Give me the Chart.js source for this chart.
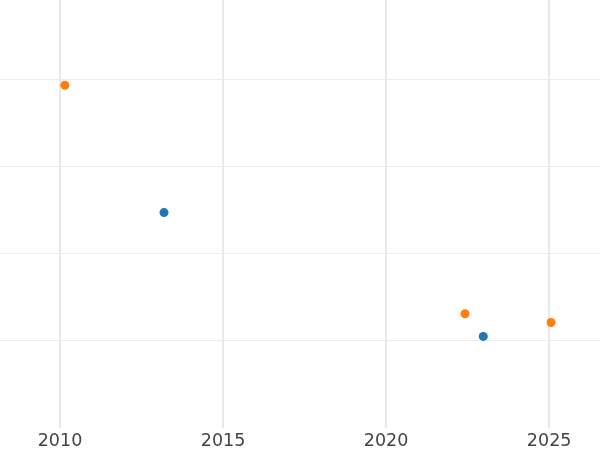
<!DOCTYPE html>
<html>
<head>
<meta charset="utf-8">
<script src="https://cdn.jsdelivr.net/npm/chart.js@4"></script>
<style>
  html, body { margin: 0; padding: 0; background: #fff; }
  #wrap { width: 600px; height: 450px; }
</style>
</head>
<body>
<div id="wrap"><canvas id="chart"></canvas></div>
<script>
const blueX = [2013.19, 2022.98];
const blueY = [2.47, 1.05];
const orangeX = [2010.15, 2022.42, 2025.06];
const orangeY = [3.93, 1.31, 1.21];
const xTicks = [2010, 2015, 2020, 2025];
const yTicks = [1, 2, 3, 4];

function points(xs, ys) {
  return xs.map((x, i) => ({ x, y: ys[i] }));
}

new Chart(document.getElementById('chart'), {
  type: 'scatter',
  data: {
    datasets: [
      { data: points(blueX, blueY), backgroundColor: '#1f77b4', borderWidth: 0, pointRadius: 4.5 },
      { data: points(orangeX, orangeY), backgroundColor: '#ff7f0e', borderWidth: 0, pointRadius: 4.5 },
    ],
  },
  options: {
    responsive: true,
    maintainAspectRatio: false,
    animation: false,
    layout: { padding: 0, autoPadding: false },
    plugins: { legend: { display: false }, tooltip: { enabled: false } },
    scales: {
      x: {
        type: 'linear',
        min: 2008.16,
        max: 2026.56,
        afterBuildTicks: (axis) => { axis.ticks = xTicks.map((v) => ({ value: v })); },
        afterFit: (axis) => { axis.height = 22; },
        ticks: {
          padding: 3,
          color: '#444',
          font: { family: 'DejaVu Sans', size: 17.5 },
          callback: (v) => String(v),
        },
        grid: { color: '#e8e8e8', lineWidth: 2, drawTicks: false },
        border: { display: false },
      },
      y: {
        min: 0,
        max: 4.908,
        afterBuildTicks: (axis) => { axis.ticks = yTicks.map((v) => ({ value: v })); },
        ticks: { display: false },
        grid: { color: '#ececec', lineWidth: 1, drawTicks: false },
        border: { display: false },
      },
    },
  },
});
</script>
</body>
</html>
